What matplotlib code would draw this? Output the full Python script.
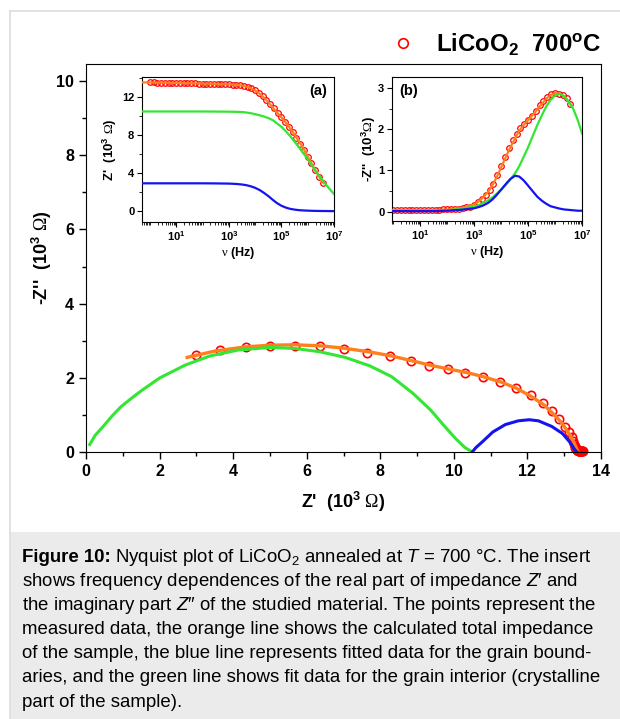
import numpy as np
import matplotlib
matplotlib.use("Agg")
import matplotlib.pyplot as plt
from matplotlib.lines import Line2D
from matplotlib.patches import Rectangle
from matplotlib.ticker import MultipleLocator, LogLocator, NullFormatter

plt.rcParams['font.family'] = ['Liberation Sans', 'DejaVu Sans']
plt.rcParams['font.weight'] = 'bold'
plt.rcParams['axes.labelweight'] = 'bold'
plt.rcParams['mathtext.fontset'] = 'custom'
plt.rcParams['mathtext.rm'] = 'Liberation Sans:weight=normal'
plt.rcParams['mathtext.it'] = 'Liberation Sans:style=italic:weight=normal'
plt.rcParams['mathtext.bf'] = 'Liberation Sans:weight=bold'
plt.rcParams['mathtext.sf'] = 'Liberation Serif:weight=normal'

# measured points (shared by main plot and both inserts)
meas_f = [1.0, 1.39, 1.93, 2.68, 3.73, 5.18, 7.2,
          10, 13.9, 19.3, 26.8, 37.3, 51.8, 72,
          100, 139, 193, 268, 373, 518, 720,
          1.0e3, 1.39e3, 1.93e3, 2.68e3, 3.73e3, 5.18e3, 7.2e3,
          1.0e4, 1.39e4, 1.93e4, 2.68e4, 3.73e4, 5.18e4, 7.2e4,
          1.0e5, 1.39e5, 1.93e5, 2.68e5, 3.73e5, 5.18e5, 7.2e5,
          1.0e6, 1.39e6, 1.93e6, 2.68e6, 3.73e6]
meas_re = [13.50, 13.49, 13.48, 13.47, 13.46, 13.45, 13.44,
           13.43, 13.42, 13.41, 13.40, 13.39, 13.38, 13.37,
           13.36, 13.35, 13.34, 13.33, 13.32, 13.31, 13.30,
           13.29, 13.27, 13.24, 13.20, 13.12, 13.01, 12.87,
           12.67, 12.43, 12.09, 11.69, 11.26, 10.78, 10.31,
           9.84, 9.33, 8.83, 8.26, 7.65, 7.02, 6.37,
           5.67, 5.01, 4.34, 3.64, 2.98]
meas_im = [0.03, 0.04, 0.04, 0.04, 0.04, 0.04, 0.04,
           0.04, 0.04, 0.04, 0.04, 0.04, 0.04, 0.05,
           0.05, 0.05, 0.06, 0.07, 0.08, 0.10, 0.12,
           0.16, 0.22, 0.30, 0.40, 0.53, 0.68, 0.88,
           1.10, 1.33, 1.55, 1.73, 1.89, 2.02, 2.13,
           2.23, 2.33, 2.45, 2.59, 2.68, 2.79, 2.86,
           2.87, 2.86, 2.84, 2.75, 2.61]

# Nyquist fit curves (main plot)
ny_green_x = [0.1, 0.25, 0.46, 0.7, 0.95, 1.25, 1.53, 2.01, 2.69, 3.37, 4.14, 5.01,
              5.69, 6.37, 7.05, 7.72, 8.31, 8.89, 9.37, 9.76, 10.05, 10.3, 10.5]
ny_green_y = [0.2, 0.45, 0.68, 0.96, 1.22, 1.46, 1.67, 2.0, 2.34, 2.59, 2.75, 2.82,
              2.79, 2.7, 2.55, 2.32, 2.03, 1.58, 1.13, 0.68, 0.36, 0.12, 0.0]
ny_blue_x = [10.5, 10.6, 10.77, 11.06, 11.4, 11.75, 12.05, 12.3, 12.66, 12.95, 13.15, 13.29, 13.35]
ny_blue_y = [0.0, 0.12, 0.27, 0.54, 0.74, 0.84, 0.87, 0.84, 0.69, 0.5, 0.27, 0.06, 0.0]
ny_orange_x = [2.75, 3.5, 4.3, 5.0, 5.7, 6.4, 7.0, 7.7, 8.3, 8.9, 9.4, 9.9, 10.4, 10.8,
               11.3, 11.7, 12.1, 12.45, 12.7, 12.9, 13.05, 13.18, 13.27, 13.33, 13.36]
ny_orange_y = [2.55, 2.72, 2.83, 2.88, 2.89, 2.86, 2.8, 2.7, 2.59, 2.45, 2.33, 2.23, 2.13, 2.03,
               1.88, 1.72, 1.5, 1.27, 1.03, 0.82, 0.62, 0.42, 0.24, 0.1, 0.03]

# fit curves vs frequency (inserts)
fit_f = [0.5, 3, 10, 30, 100, 300,
         1e3, 1.5e3, 2.2e3, 3.3e3, 4.7e3, 6.8e3,
         1e4, 1.5e4, 2.2e4, 3.3e4, 4.7e4, 6.8e4,
         1e5, 1.5e5, 2.2e5, 3.3e5, 4.7e5, 6.8e5,
         1e6, 1.5e6, 2.2e6, 3.3e6, 4.7e6, 6.8e6, 1e7]
green_re = [10.45, 10.45, 10.45, 10.45, 10.45, 10.44,
            10.43, 10.42, 10.41, 10.39, 10.34, 10.27,
            10.17, 10.05, 9.92, 9.74, 9.54, 9.2,
            8.85, 8.35, 7.85, 7.22, 6.68, 6.08,
            5.45, 4.73, 4.05, 3.45, 2.88, 2.33, 1.81]
green_im = [0.02, 0.02, 0.02, 0.02, 0.03, 0.06,
            0.12, 0.16, 0.21, 0.27, 0.34, 0.43,
            0.53, 0.65, 0.78, 0.93, 1.1, 1.32,
            1.56, 1.84, 2.1, 2.35, 2.55, 2.71,
            2.82, 2.86, 2.8, 2.66, 2.5, 2.24, 1.9]
blue_re = [2.93, 2.93, 2.93, 2.93, 2.93, 2.92,
           2.9, 2.88, 2.85, 2.8, 2.73, 2.62,
           2.46, 2.22, 1.92, 1.56, 1.2, 0.86,
           0.58, 0.38, 0.25, 0.17, 0.12, 0.09,
           0.07, 0.05, 0.04, 0.03, 0.03, 0.02, 0.02]
blue_im = [0.01, 0.01, 0.01, 0.01, 0.02, 0.04,
           0.08, 0.11, 0.15, 0.21, 0.29, 0.4,
           0.53, 0.67, 0.79, 0.87, 0.85, 0.76,
           0.63, 0.49, 0.36, 0.26, 0.19, 0.13,
           0.1, 0.07, 0.05, 0.04, 0.03, 0.02, 0.02]
orange_f = [0.5, 3, 10, 30, 100, 300,
            1e3, 1.5e3, 2.2e3, 3.3e3, 4.7e3, 6.8e3,
            1e4, 1.5e4, 2.2e4, 3.3e4, 4.7e4, 6.8e4,
            1e5, 1.5e5, 2.2e5, 3.3e5, 4.7e5, 6.8e5,
            1e6, 1.5e6, 2.2e6, 3.3e6, 4e6]
orange_re = [13.5, 13.47, 13.44, 13.41, 13.38, 13.34,
             13.3, 13.27, 13.23, 13.16, 13.06, 12.9,
             12.65, 12.3, 11.88, 11.38, 10.85, 10.35,
             9.84, 9.25, 8.65, 7.95, 7.3, 6.6,
             5.75, 4.85, 4.05, 3.25, 2.95]
orange_im = [0.04, 0.04, 0.04, 0.04, 0.05, 0.08,
             0.17, 0.25, 0.35, 0.48, 0.63, 0.83,
             1.07, 1.33, 1.56, 1.78, 1.96, 2.1,
             2.22, 2.35, 2.48, 2.62, 2.74, 2.83,
             2.88, 2.87, 2.8, 2.66, 2.58]

caption_head = "Figure 10:"
caption = [
    r"Nyquist plot of LiCoO$_2$ annealed at $T$ = 700 °C. The insert",
    "shows frequency dependences of the real part of impedance $Z$′ and",
    "the imaginary part $Z$″ of the studied material. The points represent the",
    "measured data, the orange line shows the calculated total impedance",
    "of the sample, the blue line represents fitted data for the grain bound-",
    "aries, and the green line shows fit data for the grain interior (crystalline",
    "part of the sample).",
]

RED = '#ff0000'
ORANGE = '#ff7f1e'
GREEN = '#33e633'
BLUE = '#1414f0'

W, H = 620, 719
fig = plt.figure(figsize=(W / 100, H / 100), dpi=100)

# page frame and caption box
fig.add_artist(Rectangle((11 / W, 0), 1, 1 - 532 / H, transform=fig.transFigure,
                         facecolor='#ebebeb', edgecolor='none', zorder=0))
fig.add_artist(Line2D([10 / W, 10 / W], [0, 1 - 11 / H], color='#dcdcdc', lw=1.2))
fig.add_artist(Line2D([10 / W, 1], [1 - 11 / H, 1 - 11 / H], color='#dcdcdc', lw=1.2))

cap_size = 13.4
renderer = fig.canvas.get_renderer()
head = fig.text(22 / W, 1 - 562 / H, caption_head, fontsize=cap_size, weight='bold',
                ha='left', va='baseline')
head_end = head.get_window_extent(renderer).x1 / W
for i, line in enumerate(caption):
    x0 = head_end + 4.5 / W if i == 0 else 22 / W
    fig.text(x0, 1 - (562 + 24.1 * i) / H, line, fontsize=cap_size, weight='normal',
             ha='left', va='baseline')

# ---- main Nyquist plot ----
ax = fig.add_axes([86 / W, 1 - 452 / H, 515 / W, 388 / H])
pts, = ax.plot(meas_re, meas_im, 'o', mfc='none', mec=RED, ms=6, mew=1.2,
               clip_on=False, zorder=2)
ax.plot(ny_orange_x, ny_orange_y, color=ORANGE, lw=2.4, zorder=3)
ax.plot(ny_green_x, ny_green_y, color=GREEN, lw=2.2, zorder=4)
ax.plot(ny_blue_x, ny_blue_y, color=BLUE, lw=2.2, zorder=5)
ax.set_xlim(0, 14)
ax.set_ylim(0, 10.46)
ax.xaxis.set_major_locator(MultipleLocator(2))
ax.xaxis.set_minor_locator(MultipleLocator(1))
ax.yaxis.set_major_locator(MultipleLocator(2))
ax.yaxis.set_minor_locator(MultipleLocator(1))
ax.tick_params(which='major', direction='out', length=5, width=1, labelsize=11.5)
ax.tick_params(which='minor', direction='out', length=3, width=1)
ax.set_xlabel(r"Z'  (10$^\mathbf{3}$ $\mathsf{\Omega}$)", fontsize=13, labelpad=8)
ax.set_ylabel(r"-Z''  (10$^\mathbf{3}$ $\mathsf{\Omega}$)", fontsize=13, labelpad=2)
ax.legend(handles=[pts], labels=[r"LiCoO$_\mathbf{2}$  700$^\mathbf{o}$C"],
          loc='lower right', bbox_to_anchor=(1.0 + 9 / 515, 1.0 - 2 / 388), frameon=False,
          prop={'weight': 'bold', 'size': 17.3}, markerscale=1.15,
          handletextpad=0.9, borderaxespad=-0.05, handlelength=1.0)


def style_insert(a, xmin, ylim):
    a.set_xscale('log')
    a.set_xlim(xmin, 1e7)
    a.set_ylim(*ylim)
    a.set_xticks([1e1, 1e3, 1e5, 1e7],
                 labels=[r"$\mathbf{10^{1}}$", r"$\mathbf{10^{3}}$",
                         r"$\mathbf{10^{5}}$", r"$\mathbf{10^{7}}$"])
    a.xaxis.set_minor_locator(LogLocator(base=10, subs=np.arange(1, 10), numticks=30))
    a.xaxis.set_minor_formatter(NullFormatter())
    a.tick_params(which='major', direction='out', length=3.5, width=0.8, labelsize=8, pad=2)
    a.tick_params(which='minor', direction='out', length=2, width=0.6)
    a.set_xlabel(r"$\mathsf{\nu}$ (Hz)", fontsize=9, labelpad=1)


# ---- insert (a): Z' vs frequency ----
axa = fig.add_axes([142 / W, 1 - 222 / H, 192 / W, 145 / H])
axa.plot(meas_f, meas_re, 'o', mfc='none', mec=RED, ms=4, mew=0.9, zorder=2)
axa.plot(orange_f, orange_re, color=ORANGE, lw=1.6, zorder=3)
axa.plot(fit_f, green_re, color=GREEN, lw=1.6, zorder=4)
axa.plot(fit_f, blue_re, color=BLUE, lw=1.6, zorder=5)
style_insert(axa, 0.5, (-1.12, 14.06))
axa.yaxis.set_major_locator(MultipleLocator(4))
axa.yaxis.set_minor_locator(MultipleLocator(2))
axa.set_ylabel(r"Z'  (10$^\mathbf{3}$ $\mathsf{\Omega}$)", fontsize=9.5, labelpad=2)
axa.text(0.92, 0.9, "(a)", transform=axa.transAxes, fontsize=10.5,
         ha='center', va='center')

# ---- insert (b): -Z'' vs frequency ----
axb = fig.add_axes([392 / W, 1 - 221 / H, 190 / W, 144 / H])
axb.plot(meas_f, meas_im, 'o', mfc='none', mec=RED, ms=4, mew=0.9, zorder=2)
axb.plot(orange_f, orange_im, color=ORANGE, lw=1.6, zorder=3)
axb.plot(fit_f, green_im, color=GREEN, lw=1.6, zorder=4)
axb.plot(fit_f, blue_im, color=BLUE, lw=1.6, zorder=5)
style_insert(axb, 0.9, (-0.23, 3.27))
axb.yaxis.set_major_locator(MultipleLocator(1))
axb.yaxis.set_minor_locator(MultipleLocator(0.5))
axb.set_ylabel(r"-Z''  (10$^\mathbf{3}$$\mathsf{\Omega}$)", fontsize=9.5, labelpad=0)
axb.text(0.04, 0.9, "(b)", transform=axb.transAxes, fontsize=10.5,
         ha='left', va='center')

fig.savefig("out.png", dpi=100)
